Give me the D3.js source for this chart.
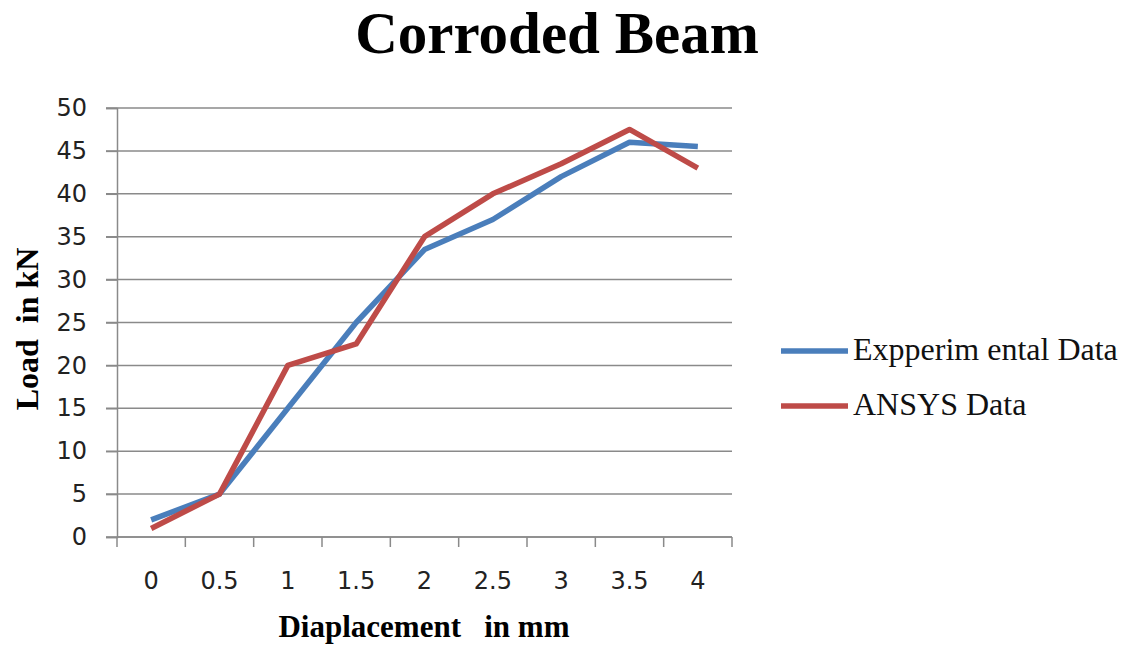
<!DOCTYPE html>
<html>
<head>
<meta charset="utf-8">
<script src="https://cdn.jsdelivr.net/npm/d3@7"></script>
<style>
  html, body { margin: 0; padding: 0; background: #fff; }
  svg { display: block; }
</style>
</head>
<body>
<svg id="chart" width="1129" height="650"></svg>
<script>
// Displacement categories (mm)
const categories = ["0", "0.5", "1", "1.5", "2", "2.5", "3", "3.5", "4"];
// Load in kN for each series
const experimental = [2, 5, 15, 25, 33.5, 37, 42, 46, 45.5];
const ansys = [1, 5, 20, 22.5, 35, 40, 43.5, 47.5, 43];
const yTicks = [0, 5, 10, 15, 20, 25, 30, 35, 40, 45, 50];
const seriesNames = ["Expperim ental Data", "ANSYS Data"];

const series = [
  { name: seriesNames[0], values: experimental, color: "#4a7ebb" },
  { name: seriesNames[1], values: ansys, color: "#be4b48" }
];

const svg = d3.select("#chart");
const plot = { left: 117, right: 732, top: 108, bottom: 537 };

const x = d3.scaleBand().domain(categories).range([plot.left, plot.right]);
const y = d3.scaleLinear().domain([0, 50]).range([plot.bottom, plot.top]);

const serif = "'Liberation Serif', 'Times New Roman', serif";
const sans = "'DejaVu Sans', Verdana, sans-serif";

// Title
svg.append("text")
  .attr("x", 557).attr("y", 53)
  .attr("text-anchor", "middle")
  .attr("font-family", serif)
  .attr("font-weight", "bold")
  .attr("font-size", 59)
  .attr("fill", "#000")
  .text("Corroded Beam");

// Horizontal gridlines
svg.append("g")
  .selectAll("line")
  .data(yTicks)
  .join("line")
  .attr("x1", plot.left - 11).attr("x2", plot.right)
  .attr("y1", d => y(d)).attr("y2", d => y(d))
  .attr("stroke", "#8a8a8a")
  .attr("stroke-width", 1.5);

// Y axis
const yAxis = svg.append("g")
  .attr("transform", `translate(${plot.left},0)`)
  .call(d3.axisLeft(y).tickValues(yTicks).tickSize(11).tickPadding(19));
yAxis.select(".domain").attr("stroke", "#8a8a8a").attr("stroke-width", 1.5);
yAxis.selectAll(".tick line").attr("stroke", "#8a8a8a").attr("stroke-width", 1.5);
yAxis.selectAll(".tick text")
  .attr("font-family", sans)
  .attr("font-size", 24)
  .attr("fill", "#222");

// X axis with tick marks between categories
const xAxisG = svg.append("g").attr("transform", `translate(0,${plot.bottom})`);
xAxisG.append("line")
  .attr("x1", plot.left).attr("x2", plot.right)
  .attr("y1", 0).attr("y2", 0)
  .attr("stroke", "#8a8a8a").attr("stroke-width", 1.5);
const boundaries = categories.map(c => x(c)).concat([x(categories[categories.length - 1]) + x.bandwidth()]);
xAxisG.selectAll("line.tick")
  .data(boundaries)
  .join("line")
  .attr("class", "tick")
  .attr("x1", d => d).attr("x2", d => d)
  .attr("y1", 0).attr("y2", 10)
  .attr("stroke", "#8a8a8a").attr("stroke-width", 1.5);
xAxisG.selectAll("text")
  .data(categories)
  .join("text")
  .attr("x", d => x(d) + x.bandwidth() / 2)
  .attr("y", 52)
  .attr("text-anchor", "middle")
  .attr("font-family", sans)
  .attr("font-size", 24)
  .attr("fill", "#222")
  .text(d => d);

// Axis titles
svg.append("text")
  .attr("x", 424).attr("y", 637)
  .attr("text-anchor", "middle")
  .attr("font-family", serif)
  .attr("font-weight", "bold")
  .attr("font-size", 31)
  .attr("fill", "#000")
  .style("white-space", "pre")
  .text("Diaplacement   in mm");

svg.append("text")
  .attr("transform", "translate(38,329) rotate(-90)")
  .attr("text-anchor", "middle")
  .attr("font-family", serif)
  .attr("font-weight", "bold")
  .attr("font-size", 32)
  .attr("fill", "#000")
  .style("white-space", "pre")
  .text("Load  in kN");

// Series lines
const line = d3.line()
  .x((d, i) => x(categories[i]) + x.bandwidth() / 2)
  .y(d => y(d));

svg.append("g")
  .selectAll("path")
  .data(series)
  .join("path")
  .attr("d", d => line(d.values))
  .attr("fill", "none")
  .attr("stroke", d => d.color)
  .attr("stroke-width", 5.5)
  .attr("stroke-linejoin", "round")
  .attr("stroke-linecap", "butt");

// Legend
const legendItems = svg.append("g")
  .selectAll("g")
  .data(series)
  .join("g")
  .attr("transform", (d, i) => `translate(781,${351 + i * 55})`);
legendItems.append("line")
  .attr("x1", 0).attr("x2", 67)
  .attr("y1", 0).attr("y2", 0)
  .attr("stroke", d => d.color)
  .attr("stroke-width", 5.5);
legendItems.append("text")
  .attr("x", 72).attr("y", 9)
  .attr("font-family", serif)
  .attr("font-size", 32)
  .attr("fill", "#111")
  .text(d => d.name);
</script>
</body>
</html>
